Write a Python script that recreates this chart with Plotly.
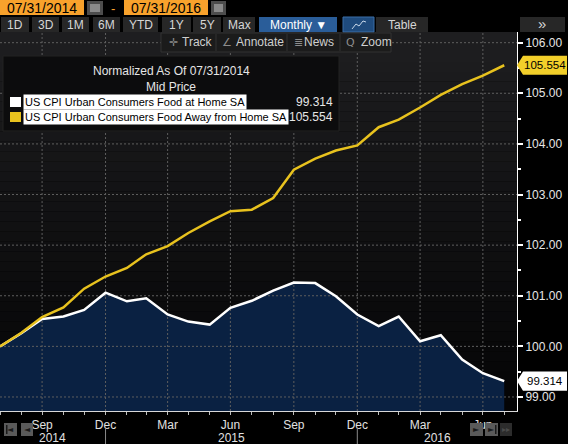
import pandas as pd
import plotly.graph_objects as go

# ===============================
# DATA (monthly, normalized to 100 at 07/31/2014)
# ===============================
start_date = "2014-07-31"
food_home = [100.00, 100.26, 100.54, 100.59, 100.72, 101.06, 100.89, 100.95, 100.63,
             100.49, 100.43, 100.76, 100.90, 101.10, 101.26, 101.25, 100.99, 100.63,
             100.40, 100.59, 100.10, 100.22, 99.74, 99.47, 99.314]
food_away = [100.00, 100.27, 100.58, 100.77, 101.14, 101.38, 101.55, 101.82, 101.98,
             102.24, 102.47, 102.67, 102.70, 102.93, 103.49, 103.71, 103.87, 103.97,
             104.33, 104.48, 104.72, 104.97, 105.18, 105.35, 105.554]
names = ["US CPI Urban Consumers Food at Home SA",
         "US CPI Urban Consumers Food Away from Home SA"]
tick_dates = ["2014-09-30", "2014-12-31", "2015-03-31", "2015-06-30",
              "2015-09-30", "2015-12-31", "2016-03-31", "2016-06-30"]
tick_text = ["Sep", "Dec", "Mar", "Jun", "Sep", "Dec", "Mar", "Jun"]
years = ["2014", "2015", "2016"]
year_breaks = ["2014-12-31", "2015-12-31"]
y_ticks = [99, 100, 101, 102, 103, 104, 105, 106]

dates = pd.date_range(start_date, periods=len(food_home), freq=pd.offsets.MonthEnd())

x_start = pd.Timestamp(start_date)
x_end = pd.Timestamp("2016-08-18 12:00")
y_lo, y_hi = 98.723, 106.211

# colors
YEL = "#e8c21e"
NAVY = "#0a2142"
GRID = "#5e5e5e"
BTN = "#272727"
ORANGE = "#f8a22c"

# pixel -> paper helpers (plot area: x 0..517, y 32..411)
L, R, T, B = 0, 517, 32, 411
def px(x):
    return (x - L) / (R - L)
def py(y):
    return (B - y) / (B - T)

fig = go.Figure()

# navy area under the food-at-home line
fig.add_trace(go.Scatter(x=dates, y=food_home, mode="none", fill="tozeroy",
                         fillcolor=NAVY, hoverinfo="skip"))

# dotted grid drawn above the area, below the lines
for d in tick_dates:
    fig.add_trace(go.Scatter(x=[d, d], y=[y_lo, y_hi], mode="lines",
                             line=dict(color=GRID, width=1, dash="2px,2px"), hoverinfo="skip"))
for v in y_ticks:
    fig.add_trace(go.Scatter(x=[x_start, x_end], y=[v, v], mode="lines",
                             line=dict(color=GRID, width=1, dash="2px,2px"), hoverinfo="skip"))

fig.add_trace(go.Scatter(x=dates, y=food_home, mode="lines", name=names[0],
                         line=dict(color="white", width=2.5)))
fig.add_trace(go.Scatter(x=dates, y=food_away, mode="lines", name=names[1],
                         line=dict(color=YEL, width=2.5)))

shapes = []
ann = []

# plot background gradient
n_band = 38
c_top, c_bot = (30, 30, 32), (4, 4, 5)
for i in range(n_band):
    t = i / (n_band - 1)
    c = tuple(int(round(c_top[k] + (c_bot[k] - c_top[k]) * t)) for k in range(3))
    shapes.append(dict(type="rect", xref="paper", yref="paper", layer="below",
                       x0=0, x1=1, y0=1 - (i + 1) / n_band, y1=1 - i / n_band,
                       fillcolor="rgb(%d,%d,%d)" % c, line=dict(width=0)))

def box(x0, y0, x1, y1, fill, line=None, layer="above"):
    shapes.append(dict(type="rect", xref="paper", yref="paper", layer=layer,
                       x0=px(x0), x1=px(x1), y0=py(y1), y1=py(y0), fillcolor=fill,
                       line=dict(width=1 if line else 0, color=line or fill)))

def text(x, y, s, color="#d6d6d6", size=12, anchor="center", bg=None, family=None):
    a = dict(xref="paper", yref="paper", x=px(x), y=py(y), text=s, showarrow=False,
             xanchor=anchor, yanchor="middle", font=dict(color=color, size=size))
    if family:
        a["font"]["family"] = family
    if bg:
        a["bgcolor"] = bg
        a["borderpad"] = 1
    ann.append(a)

# ---- top row: date range
box(0, 0, 84, 15, ORANGE)
text(42, 8, "07/31/2014", color="black", size=14)
box(87, 1, 103, 15, "#4d4d4d")
box(90, 4, 100, 12, "#8a8a8a")
text(113, 8, "-", color=ORANGE, size=13)
box(124, 0, 208, 15, ORANGE)
text(166, 8, "07/31/2016", color="black", size=14)
box(211, 1, 226, 15, "#4d4d4d")
box(214, 4, 223, 12, "#8a8a8a")

# ---- second row: buttons
buttons = [(1, 29, "1D"), (32, 59, "3D"), (62, 89, "1M"), (93, 120, "6M"),
           (123, 158, "YTD"), (162, 191, "1Y"), (193, 221, "5Y"), (223, 255, "Max"),
           (376, 428, "Table")]
for x0, x1, s in buttons:
    box(x0, 17, x1, 32, BTN)
    text((x0 + x1) / 2, 25, s, size=12)
box(259, 17, 337, 32, "#2a5d99")
text(298, 25, "Monthly \u25bc", color="white", size=12)
box(343, 17, 374, 32, "#1f4b7d", line="#3a6ea8")
shapes.append(dict(type="path", xref="paper", yref="paper", layer="above",
                   path="M %f %f L %f %f L %f %f L %f %f L %f %f" % (
                       px(352), py(29), px(356), py(24), px(359), py(26),
                       px(363), py(21), px(366), py(22)),
                   line=dict(color="#c8d8ea", width=1)))
box(520, 17, 565, 32, BTN)
text(542, 24, "\u00bb", size=15)

# ---- third row: track / annotate / news / zoom
box(161, 33, 391, 52, "#1b1b1b", line="#333333")
for xs in (216, 287, 340):
    shapes.append(dict(type="line", xref="paper", yref="paper", layer="above",
                       x0=px(xs), x1=px(xs), y0=py(34), y1=py(51),
                       line=dict(color="#333333", width=1)))
tools = [(173, 197, "\u271b", "Track"), (227, 260, "\u2220", "Annotate"),
         (298, 319, "\u2263", "News"), (350, 376, "Q", "Zoom")]
for xi, xt, ic, s in tools:
    text(xi, 42, ic, color="#8c8c8c", size=11, family="DejaVu Sans")
    text(xt, 42, s, color="#cfcfcf", size=12)

# ---- legend box
box(3, 56, 339, 131, "#0c0c0d", line="#222222")
text(171, 71, "Normalized As Of 07/31/2014", color="#e6e6e6", size=12)
text(171, 87, "Mid Price", color="#e6e6e6", size=12)
for i, (nm, col, vals) in enumerate([(names[0], "white", food_home),
                                     (names[1], YEL, food_away)]):
    yc = 102 + 15 * i
    box(10, yc - 5, 21, yc + 5, col)
    text(23, yc, nm, color="black", size=11, anchor="left", bg="white")
    text(335, yc, "%.3f" % vals[-1], color="#e6e6e6", size=12, anchor="right")

# ---- last-value badges on the right axis
for v, col in [(food_away[-1], "#f2cf2a"), (food_home[-1], "white")]:
    h = 0.19
    shapes.append(dict(type="path", xref="paper", yref="y", layer="above",
                       path="M %f %f L %f %f L %f %f L %f %f L %f %f Z" % (
                           px(517), v, px(523), v + h, px(567), v + h,
                           px(567), v - h, px(523), v - h),
                       fillcolor=col, line=dict(width=0)))
    ann.append(dict(xref="paper", yref="y", x=px(545), y=v, text="%.3f" % v,
                    showarrow=False, xanchor="center", yanchor="middle",
                    font=dict(color="black", size=11.5)))

# ---- year labels and separators under the x axis
for d in year_breaks:
    shapes.append(dict(type="line", xref="x", yref="paper", layer="above",
                       x0=d, x1=d, y0=py(428), y1=py(444),
                       line=dict(color="#8a8a8a", width=1)))
edges = [x_start] + [pd.Timestamp(d) for d in year_breaks] + [x_end]
for i, yr in enumerate(years):
    mid = edges[i] + (edges[i + 1] - edges[i]) / 2
    ann.append(dict(xref="x", yref="paper", x=mid, y=py(438), text=yr, showarrow=False,
                    xanchor="center", yanchor="middle", font=dict(color="#e0e0e0", size=12)))

# ---- scroll buttons
for x0, x1, g, fill, gc in [(4, 17, "\u25c4", "#5a5a5a", "#1a1a1a"),
                            (21, 33, "\u25c4", "#5a5a5a", "#1a1a1a"),
                            (470, 483, "\u25ba", "#5a5a5a", "#1a1a1a"),
                            (485, 498, "\u25ba", "#5a5a5a", "#1a1a1a"),
                            (500, 512, "\u25b8\u25b8", "#2c2c2c", "#4a4a4a")]:
    box(x0, 423, x1, 436, fill)
    text((x0 + x1) / 2, 429.5, g, color=gc, size=8, family="DejaVu Sans")
for xb in (6, 495):
    box(xb, 425, xb + 1.5, 434, "#1a1a1a")

fig.update_layout(
    width=568, height=444,
    margin=dict(l=L, r=568 - R, t=T, b=444 - B, autoexpand=False),
    paper_bgcolor="black", plot_bgcolor="black",
    showlegend=False,
    font=dict(family="Liberation Sans, Arial, sans-serif", size=12, color="#e6e6e6"),
    shapes=shapes, annotations=ann,
    xaxis=dict(type="date", range=[x_start, x_end], tickvals=tick_dates, ticktext=tick_text,
               ticks="outside", ticklen=3, tickcolor="#bdbdbd", showline=True,
               linecolor="#d8d8d8", linewidth=1, showgrid=False, zeroline=False,
               tickfont=dict(size=12, color="#e0e0e0"),
               minor=dict(tickvals=list(dates), ticks="outside", ticklen=3, tickcolor="#bdbdbd")),
    yaxis=dict(side="right", range=[y_lo, y_hi], tick0=99, dtick=1, tickformat=".2f",
               ticks="outside", ticklen=5, tickwidth=2, tickcolor="white",
               showline=True, linecolor="white", linewidth=1, showgrid=False, zeroline=False,
               tickfont=dict(size=12, color="#e6e6e6"),
               minor=dict(tick0=99, dtick=0.5, ticks="outside", ticklen=3, tickcolor="white")),
)

# page has a default body margin; remove it so the figure sits at the window corner
fig.write_html("out.html", config={"displayModeBar": False},
               post_script="document.body.style.margin='0';")
